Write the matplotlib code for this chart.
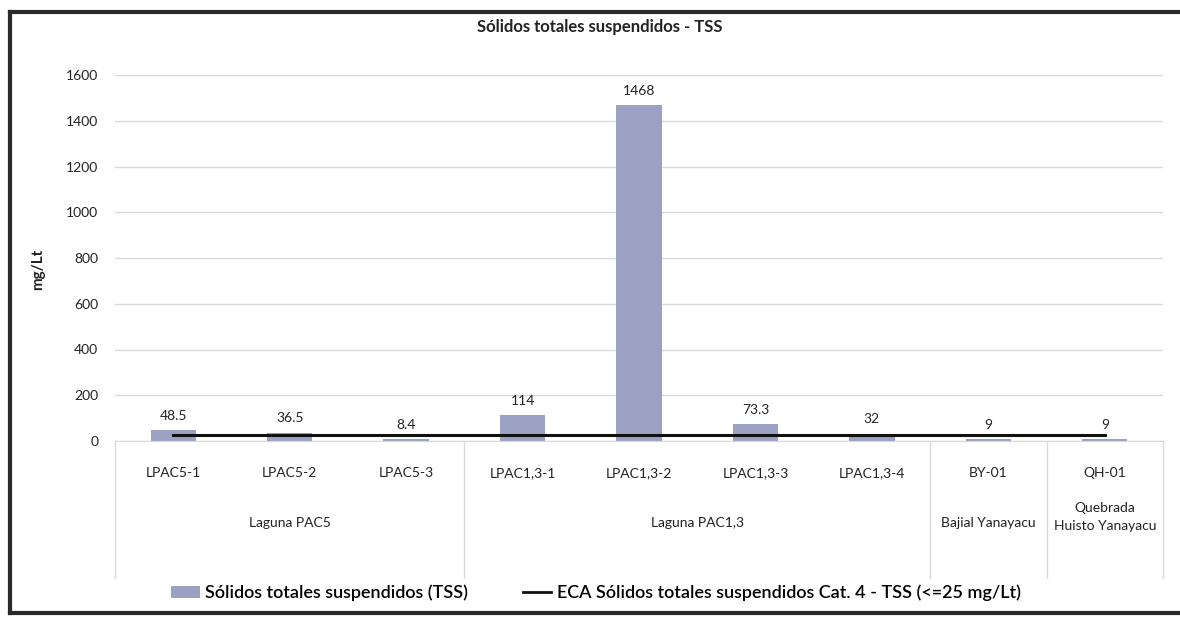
import matplotlib
matplotlib.use("Agg")
import matplotlib.pyplot as plt
from matplotlib.lines import Line2D
from matplotlib.patches import Patch

plt.rcParams['font.family'] = ['Lato', 'DejaVu Sans']

# Sampling stations, their water bodies and measured TSS
stations = ["LPAC5-1", "LPAC5-2", "LPAC5-3", "LPAC1,3-1", "LPAC1,3-2",
            "LPAC1,3-3", "LPAC1,3-4", "BY-01", "QH-01"]
groups = ["Laguna PAC5", "Laguna PAC1,3", "Bajial Yanayacu",
          "Quebrada\nHuisto Yanayacu"]
group_sizes = [3, 4, 1, 1]
tss = [48.5, 36.5, 8.4, 114, 1468, 73.3, 32, 9, 9]
tss_labels = ["48.5", "36.5", "8.4", "114", "1468", "73.3", "32", "9", "9"]
eca_limit = [25] * len(stations)
y_ticks = [0, 200, 400, 600, 800, 1000, 1200, 1400, 1600]

bar_color = "#9ba1c3"
text_color = "#222222"
fs = 10

W, H = 1180, 617
fig = plt.figure(figsize=(W / 100, H / 100), dpi=100)
fig.patch.set_facecolor("white")

ax_left, ax_right = 115 / W, 1163 / W
ax_bottom, ax_top = (H - 441) / H, (H - 75) / H
ax = fig.add_axes([ax_left, ax_bottom, ax_right - ax_left, ax_top - ax_bottom])

x = list(range(len(stations)))
ax.bar(x, tss, width=0.39, color=bar_color, zorder=2)
ax.plot(x, eca_limit, color="#111111", linewidth=2.2, zorder=3)

for xi, v, lab in zip(x, tss, tss_labels):
    ax.annotate(lab, (xi, v), xytext=(0, 6), textcoords="offset points",
                ha="center", va="bottom", fontsize=fs, color=text_color)

ax.set_xlim(-0.5, len(stations) - 0.5)
ax.set_ylim(0, 1600)
ax.set_yticks(y_ticks)
ax.set_yticklabels([str(t) for t in y_ticks], fontsize=fs, color=text_color)
ax.yaxis.grid(True, color="#d9d9d9", linewidth=1)
ax.set_axisbelow(True)
ax.tick_params(axis="y", length=0, pad=12)
ax.tick_params(axis="x", length=0)
ax.set_xticks([])
for s in ["top", "right", "left"]:
    ax.spines[s].set_visible(False)
ax.spines["bottom"].set_color("#d9d9d9")

ax.set_ylabel("mg/Lt", fontsize=11, fontweight="bold", color=text_color)
ax.yaxis.set_label_coords((45 - 115) / (1163 - 115), 0.47)

# Multi-level category axis
trans = ax.get_xaxis_transform()
to_axes_y = lambda py: (441 - py) / (441 - 75)
for xi, name in zip(x, stations):
    ax.text(xi, to_axes_y(473), name, transform=trans, ha="center",
            va="center", fontsize=fs, color=text_color)

bounds = [-0.5]
for n in group_sizes:
    bounds.append(bounds[-1] + n)
for b in bounds:
    ax.plot([b, b], [0, to_axes_y(578)], transform=trans, color="#d9d9d9",
            linewidth=1, clip_on=False)
for g, lo, hi in zip(groups, bounds[:-1], bounds[1:]):
    yc = to_axes_y(517) if "\n" in g else to_axes_y(523)
    ax.text((lo + hi) / 2, yc, g, transform=trans, ha="center", va="center",
            fontsize=fs, color=text_color, linespacing=1.5)

fig.text(600 / W, (H - 27) / H, "Sólidos totales suspendidos - TSS",
         ha="center", va="center", fontsize=12, fontweight="bold",
         color=text_color)

handles = [Patch(facecolor=bar_color, edgecolor="none"),
           Line2D([0], [0], color="#111111", linewidth=2)]
labels = ["Sólidos totales suspendidos (TSS)",
          "ECA Sólidos totales suspendidos Cat. 4 - TSS (<=25 mg/Lt)"]
fig.legend(handles, labels, loc="center", bbox_to_anchor=(596 / W, (H - 593) / H),
           ncol=2, frameon=False, handlelength=1.6,
           handletextpad=0.3, columnspacing=3.0,
           prop={"weight": "semibold", "size": 13})

# Outer frame
frame_kw = dict(color="#2a2a2a", linewidth=3, transform=fig.transFigure)
fig.add_artist(Line2D([10 / W, 1178 / W], [(H - 12) / H, (H - 12) / H], **frame_kw))
fig.add_artist(Line2D([10 / W, 10 / W], [(H - 12) / H, (H - 613) / H], **frame_kw))
fig.add_artist(Line2D([10 / W, 1178 / W], [(H - 613) / H, (H - 613) / H], **frame_kw))

fig.savefig("out.png", dpi=100, facecolor="white")
